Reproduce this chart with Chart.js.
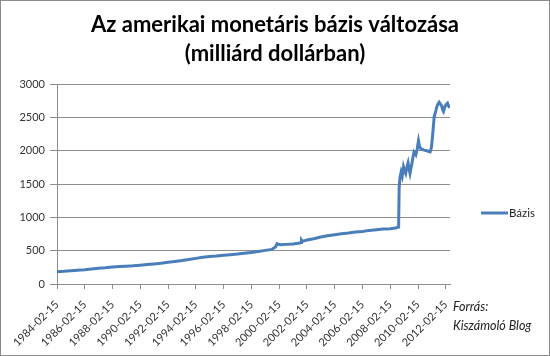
<!DOCTYPE html>
<html>
<head>
<meta charset="utf-8">
<script src="https://cdn.jsdelivr.net/npm/chart.js@4"></script>
<style>
  body{margin:0;background:#fff;}
  #wrap{width:550px;height:356px;box-sizing:border-box;border:1px solid #8c8c8c;}
</style>
</head>
<body>
<div id="wrap"><canvas id="myChart" width="548" height="354"></canvas></div>
<script>
// ev (tizedes) + bazis (milliard dollar)
const years = [1984.12,1984.6,1985.12,1985.6,1986.12,1986.6,1987.12,1987.6,1988.12,1988.6,
  1989.12,1989.6,1990.12,1990.6,1991.12,1991.6,1992.12,1992.6,1993.12,1993.6,
  1994.12,1994.6,1995.12,1995.6,1996.12,1996.6,1997.12,1997.6,1998.12,1998.6,
  1999.12,1999.6,1999.85,1999.97,2000.05,2000.2,2000.6,2001.12,2001.6,2001.7,
  2001.73,2001.78,2002.12,2002.6,2003.12,2003.6,2004.12,2004.6,2005.12,2005.6,
  2006.12,2006.6,2007.12,2007.6,2008.12,2008.5,2008.68,2008.72,2008.76,2008.82,
  2008.9,2008.98,2009.07,2009.15,2009.23,2009.32,2009.4,2009.48,2009.54,2009.65,
  2009.75,2009.83,2009.96,2010.05,2010.15,2010.22,2010.32,2010.45,2010.55,2010.75,
  2010.9,2010.99,2011.08,2011.16,2011.28,2011.4,2011.47,2011.55,2011.64,2011.72,
  2011.81,2011.9,2011.95,2012.05,2012.12,2012.24,2012.33,2012.42];
const bazis = [185,190,198,205,214,225,238,245,255,262,
  268,273,282,292,302,312,325,338,352,368,
  385,400,413,420,432,440,450,462,474,487,
  505,520,555,605,598,590,595,600,615,625,
  655,640,660,680,705,725,740,755,765,780,
  790,805,815,825,830,840,855,875,1450,1600,
  1680,1620,1760,1700,1660,1760,1820,1720,1660,1780,
  1900,1980,1940,2020,2150,2070,2030,2020,2010,2000,
  1990,1985,2050,2210,2510,2600,2660,2700,2730,2705,
  2680,2610,2590,2660,2690,2715,2665,2645];
const tickYears = [1984,1986,1988,1990,1992,1994,1996,1998,2000,2002,2004,2006,2008,2010,2012];
const yTicks = [0,500,1000,1500,2000,2500,3000];
const seriesName = 'Bázis';
const titleLines = ['Az amerikai monetáris bázis változása','(milliárd dollárban)'];
const sourceLines = ['Forrás:','Kiszámoló Blog'];

const gridCol = '#8e8e8e';
const lineCol = '#4a7ebb';

const extras = {
  id:'extras',
  afterDraw(chart){
    const ctx = chart.ctx;
    const ds = chart.data.datasets[0];
    ctx.save();
    // jelmagyarazat
    ctx.strokeStyle = ds.borderColor;
    ctx.lineWidth = 3;
    ctx.beginPath();
    ctx.moveTo(480, 212);
    ctx.lineTo(507, 212);
    ctx.stroke();
    ctx.fillStyle = '#222';
    ctx.font = '11.5px Lato';
    ctx.textBaseline = 'middle';
    ctx.fillText(ds.label, 508, 212);
    // forras
    ctx.font = 'italic 12.5px Lato';
    ctx.fillText(sourceLines[0], 452, 306);
    ctx.fillText(sourceLines[1], 452, 325);
    ctx.restore();
  }
};

const chart = new Chart(document.getElementById('myChart'), {
  type:'line',
  data:{
    datasets:[{
      label: seriesName,
      data: years.map((y,i)=>({x:y, y:bazis[i]})),
      borderColor: lineCol,
      backgroundColor: lineCol,
      borderWidth: 3,
      pointRadius: 0,
      tension: 0
    }]
  },
  options:{
    responsive:false,
    animation:false,
    layout:{padding:0},
    plugins:{
      legend:{display:false},
      tooltip:{enabled:false},
      title:{
        display:true,
        text: titleLines,
        color:'#000',
        font:{family:'Lato', size:22, weight:'bold', lineHeight:1.3},
        padding:{top:10, bottom:16}
      }
    },
    scales:{
      x:{
        type:'linear',
        min:1984.12, max:2012.42,
        afterBuildTicks(s){ s.ticks = tickYears.map(y=>({value:y+0.12})); },
        afterFit(s){ s.height = 71; },
        ticks:{
          autoSkip:false, maxRotation:45, minRotation:45, padding:9,
          color:'#333', font:{family:'Lato', size:11},
          callback:(v)=> Math.round(v-0.12) + '-02-15'
        },
        grid:{display:true, drawOnChartArea:false, drawTicks:true, tickLength:5, color:gridCol},
        border:{display:true, color:gridCol}
      },
      y:{
        min:0, max:3000,
        afterBuildTicks(s){ s.ticks = yTicks.map(v=>({value:v})); },
        afterFit(s){ s.width = 56; },
        ticks:{color:'#333', font:{family:'Lato', size:11}, padding:5, callback:(v)=> String(v)},
        grid:{color:gridCol, tickLength:7},
        border:{display:true, color:gridCol}
      },
      y2:{
        position:'right',
        display:true,
        afterFit(s){ s.width = 99; },
        ticks:{display:false},
        grid:{display:false, drawTicks:false},
        border:{display:false}
      }
    }
  },
  plugins:[extras]
});
</script>
</body>
</html>
